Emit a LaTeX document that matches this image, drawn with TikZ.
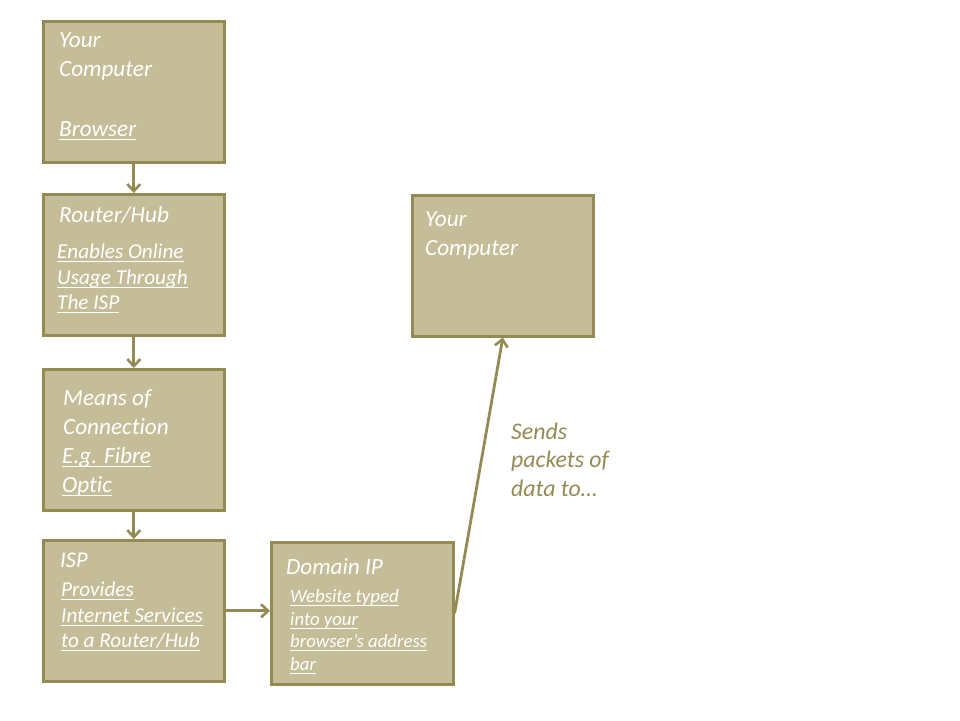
\documentclass[tikz,border=0pt]{standalone}
\usepackage{fontspec}
\setmainfont{Carlito}[Ligatures=NoCommon]
\usetikzlibrary{arrows.meta}
\definecolor{boxfill}{HTML}{C4BD97}
\definecolor{olivedraw}{HTML}{948A54}
\newcommand{\myul}[1]{\setbox0\hbox{#1}\rlap{\rule[-3.9pt]{\wd0}{1.3pt}}\box0}
\begin{document}
\begin{tikzpicture}[x=1pt,y=-1pt,
  box/.style={draw=olivedraw, fill=boxfill, line width=2.6pt, rectangle, inner sep=0pt,
    minimum width=181pt, minimum height=141pt, anchor=north west},
  big/.style={anchor=base west, inner sep=0pt, text=white, font=\itshape\fontsize{23.2}{29}\selectfont},
  mid/.style={anchor=base west, inner sep=0pt, text=white, font=\itshape\fontsize{21.2}{25}\selectfont},
  small/.style={anchor=base west, inner sep=0pt, text=white, font=\itshape\fontsize{18.8}{22}\selectfont},
  lbl/.style={anchor=base west, inner sep=0pt, text=olivedraw, font=\itshape\fontsize{23.8}{29}\selectfont},
  conn/.style={draw=olivedraw, line width=2.8pt, -{Straight Barb[length=7pt,width=13pt,line width=2.6pt]}}]
\useasboundingbox (0,0) rectangle (960,720);

% boxes
\node[box] (comp) at (42,20) {};
\node[box] (router) at (42,193) {};
\node[box] (means) at (42,368) {};
\node[box] (isp) at (42,539) {};
\node[box, minimum width=182pt, minimum height=142pt] (dom) at (270,541) {};
\node[box] (comp2) at (411,194) {};

% box 1
\node[big] (t1a) at (59,47) {Your};
\node[big] (t1b) at (59,76) {Computer};
\node[big] (t1c) at (59,136) {\myul{Browser}};
% box 2
\node[big] (t2a) at (59,222) {Router/Hub};
\node[mid] (t2b) at (57,258.5) {\myul{Enables Online}};
\node[mid] (t2c) at (57,284) {\myul{Usage Through}};
\node[mid] (t2d) at (57,309) {\myul{The ISP}};
% box 3
\node[big] (t3a) at (63,405) {Means of};
\node[big] (t3b) at (63,434) {Connection};
\node[big] (t3c) at (62,463) {\myul{E.g. Fibre}};
\node[big] (t3d) at (62,492) {\myul{Optic}};
% box 4
\node[mid, font=\itshape\fontsize{22.5}{25}\selectfont] (t4a) at (60,567) {ISP};
\node[mid] (t4b) at (61,596.5) {\myul{Provides}};
\node[mid] (t4c) at (61,622) {\myul{Internet Services}};
\node[mid] (t4d) at (61,647) {\myul{to a Router/Hub}};
% box 5
\node[big] (t5a) at (286,574) {Domain IP};
\node[small] (t5b) at (290,602.5) {\myul{Website typed}};
\node[small] (t5c) at (290,625) {\myul{into your}};
\node[small] (t5d) at (290,647.5) {\myul{browser’s address}};
\node[small] (t5e) at (290,670) {\myul{bar}};
% box 6
\node[big] (t6a) at (425,226.5) {Your};
\node[big] (t6b) at (425,255.5) {Computer};
% label
\node[lbl] (l1) at (511,439) {Sends};
\node[lbl] (l2) at (511,467.5) {packets of};
\node[lbl] (l3) at (511,496) {data to…};

% connectors
\draw[conn] (comp.south) -- (router.north);
\draw[conn] (router.south) -- (means.north);
\draw[conn] (means.south) -- (isp.north);
\draw[conn] (isp.east) -- (isp.east -| dom.west);
\draw[conn] (dom.east) -- (comp2.south);
\end{tikzpicture}
\end{document}
